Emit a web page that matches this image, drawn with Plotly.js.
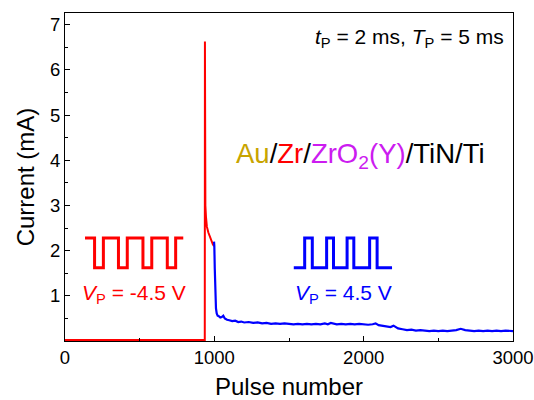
<!DOCTYPE html>
<html>
<head>
<meta charset="utf-8">
<script src="https://cdn.plot.ly/plotly-3.0.1.min.js"></script>
<style>html,body{margin:0;padding:0;background:#fff;}#chart{width:534px;height:400px;}</style>
</head>
<body>
<div id="chart"></div>
<script>
// Negative-pulse (red) current trace
const redX = [0, 930, 936, 937, 938, 940, 944, 950, 960, 970, 980, 990, 998];
const redY = [0.02, 0.02, 0.02, 6.63, 3.7, 3.0, 2.75, 2.53, 2.4, 2.3, 2.22, 2.14, 2.1];

// Positive-pulse (blue) current trace
const blueX = [998,1000,1003,1007,1011,1016,1022,1030,1040,1050,
  1060,1070,1085,1100,1120,1140,1160,1180,1200,1230,
  1260,1290,1320,1350,1380,1410,1440,1470,1500,1530,
  1560,1590,1620,1650,1680,1710,1740,1760,1780,1800,
  1820,1850,1880,1910,1940,1970,2000,2030,2060,2080,
  2100,2130,2160,2180,2200,2230,2260,2290,2320,2350,
  2380,2410,2440,2470,2500,2530,2560,2590,2620,2650,
  2680,2710,2740,2770,2800,2830,2860,2890,2920,2950,
  2980,3000];
const blueY = [2.2,2.1,1.6,1.0,0.72,0.61,0.56,0.55,0.52,0.53,
  0.56,0.50,0.47,0.46,0.44,0.45,0.42,0.43,0.41,0.42,
  0.40,0.41,0.39,0.40,0.38,0.39,0.38,0.39,0.38,0.37,
  0.38,0.37,0.38,0.37,0.38,0.37,0.39,0.37,0.40,0.38,
  0.37,0.38,0.37,0.38,0.37,0.38,0.37,0.36,0.37,0.39,
  0.35,0.34,0.33,0.31,0.34,0.28,0.26,0.24,0.25,0.23,
  0.24,0.23,0.22,0.23,0.22,0.23,0.22,0.23,0.24,0.27,
  0.24,0.23,0.22,0.23,0.22,0.23,0.22,0.23,0.22,0.23,
  0.22,0.22];

// Pulse-shape icons (square waves)
const redWaveX = [134,198,198,257,257,358,358,417,417,522,522,581,581,685,685,741,741,792];
const redWaveY = [2.28,2.28,1.62,1.62,2.28,2.28,1.62,1.62,2.28,2.28,1.62,1.62,2.28,2.28,1.62,1.62,2.28,2.28];
const blueWaveX = [1532,1605,1605,1656,1656,1752,1752,1798,1798,1889,1889,1934,1934,2040,2040,2090,2090,2190];
const blueWaveY = [1.62,1.62,2.28,2.28,1.62,1.62,2.28,2.28,1.62,1.62,2.28,2.28,1.62,1.62,2.28,2.28,1.62,1.62];

// Axis ticks
const xTicks = [0, 1000, 2000, 3000];
const yTicks = [1, 2, 3, 4, 5, 6, 7];

const FONT = "Liberation Sans, Arial, sans-serif";

const traces = [
  {x: redX, y: redY, type: 'scatter', mode: 'lines', line: {color: '#FF0000', width: 2}, hoverinfo: 'skip'},
  {x: blueX, y: blueY, type: 'scatter', mode: 'lines', line: {color: '#0000FF', width: 2.2}, hoverinfo: 'skip'},
  {x: redWaveX, y: redWaveY, type: 'scatter', mode: 'lines', line: {color: '#FF0000', width: 3}, hoverinfo: 'skip'},
  {x: blueWaveX, y: blueWaveY, type: 'scatter', mode: 'lines', line: {color: '#0000FF', width: 3}, hoverinfo: 'skip'}
];

const layout = {
  width: 534, height: 400,
  margin: {l: 65, r: 21, t: 13, b: 59},
  paper_bgcolor: '#fff', plot_bgcolor: '#fff',
  showlegend: false,
  font: {family: FONT, color: '#000'},
  xaxis: {
    range: [0, 3000], tickvals: xTicks, ticktext: xTicks.map(String),
    ticks: 'inside', ticklen: 5, tickwidth: 1, tickcolor: '#000',
    minor: {ticks: 'inside', dtick: 500, tick0: 0, ticklen: 3, tickcolor: '#000', showgrid: false},
    showline: true, linecolor: '#000', linewidth: 1, mirror: true,
    showgrid: false, zeroline: false,
    tickfont: {size: 18.5, family: FONT, color: '#000'},
    title: {text: 'Pulse number', font: {size: 24, family: FONT, color: '#000'}, standoff: 10}
  },
  yaxis: {
    range: [0, 7.26], tickvals: yTicks, ticktext: yTicks.map(String),
    ticks: 'inside', ticklen: 5, tickwidth: 1, tickcolor: '#000',
    minor: {ticks: 'inside', dtick: 0.5, tick0: 0, ticklen: 3, tickcolor: '#000', showgrid: false},
    showline: true, linecolor: '#000', linewidth: 1, mirror: true,
    showgrid: false, zeroline: false,
    tickfont: {size: 18.5, family: FONT, color: '#000'},
    title: {text: 'Current (mA)', font: {size: 24, family: FONT, color: '#000'}, standoff: 8}
  },
  annotations: [
    {x: 2950, y: 6.71, xref: 'x', yref: 'y', xanchor: 'right', yanchor: 'middle', showarrow: false,
     text: '<i>t</i><sub>P</sub> = 2 ms, <i>T</i><sub>P</sub> = 5 ms', font: {size: 21, family: FONT, color: '#000'}},
    {x: 1980, y: 4.1, xref: 'x', yref: 'y', xanchor: 'center', yanchor: 'middle', showarrow: false,
     text: '<span style="color:#C8A400">Au</span>/<span style="color:#FF0000">Zr</span>/<span style="color:#CC1CF0">ZrO<sub>2</sub>(Y)</span>/TiN/Ti',
     font: {size: 27.5, family: FONT, color: '#000'}},
    {x: 464, y: 1.05, xref: 'x', yref: 'y', xanchor: 'center', yanchor: 'middle', showarrow: false,
     text: '<i>V</i><sub>P</sub> = -4.5 V', font: {size: 21, family: FONT, color: '#FF0000'}},
    {x: 1862, y: 1.05, xref: 'x', yref: 'y', xanchor: 'center', yanchor: 'middle', showarrow: false,
     text: '<i>V</i><sub>P</sub> = 4.5 V', font: {size: 21, family: FONT, color: '#0000FF'}}
  ]
};

Plotly.newPlot('chart', traces, layout, {staticPlot: true, displayModeBar: false});
</script>
</body>
</html>
